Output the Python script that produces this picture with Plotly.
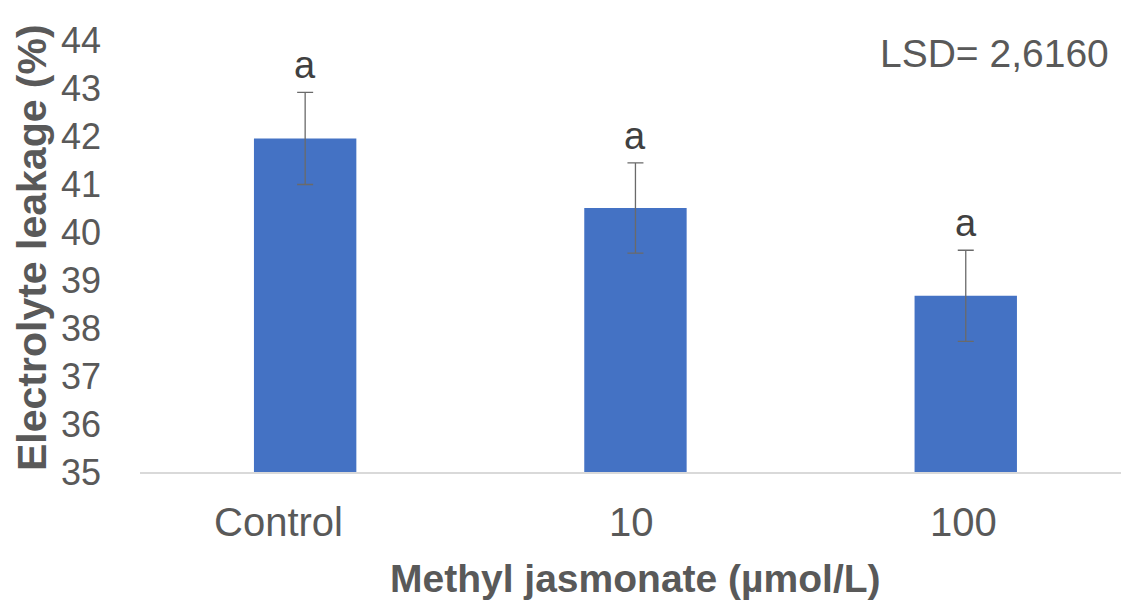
import plotly.graph_objects as go

categories = ["Control", "10", "100"]
means = [41.95, 40.50, 38.67]
errors = [0.96, 0.94, 0.95]
letters = ["a", "a", "a"]
y_ticks = [35, 36, 37, 38, 39, 40, 41, 42, 43, 44]
lsd_text = "LSD= 2,6160"
x_title = "<b>Methyl jasmonate (µmol/L)</b>"
y_title = "<b>Electrolyte leakage (%)</b>"

FONT = "Liberation Sans, Arial, sans-serif"
GRAY = "#595959"
W, H = 1121, 603
ML, MR, MT, MB = 140, 0, 40, 131
label_shift = [-27, -4, -2]

fig = go.Figure()
fig.add_trace(go.Bar(
    x=categories, y=means, width=0.31,
    marker=dict(color="#4472C4", line=dict(width=0)),
    error_y=dict(type="data", array=errors, visible=True,
                 color="#6a6a6a", thickness=1.3, width=8),
    showlegend=False,
))

for i, (m, e, t) in enumerate(zip(means, errors, letters)):
    fig.add_annotation(x=i, y=m + e, xref="x", yref="y", text=t, showarrow=False,
                       yanchor="bottom", yshift=4,
                       font=dict(family=FONT, size=38, color="#404040"))

# category labels (Control label sits left of its bar in the reference)
for i, (c, s) in enumerate(zip(categories, label_shift)):
    fig.add_annotation(x=i, y=0, xref="x", yref="paper", text=c, showarrow=False,
                       xanchor="center", yanchor="middle", xshift=s, yshift=-50,
                       font=dict(family=FONT, size=40, color=GRAY))

fig.add_annotation(x=1, y=1, xref="paper", yref="paper", text=lsd_text,
                   showarrow=False, xanchor="right", yanchor="middle",
                   xshift=-10, yshift=-13,
                   font=dict(family=FONT, size=39, color=GRAY))

# axis titles
pw = W - ML - MR
ph = H - MT - MB
fig.add_annotation(x=0.5, y=-(578 - (H - MB)) / ph, xref="paper", yref="paper",
                   text=x_title, showarrow=False, xanchor="center", yanchor="middle",
                   xshift=5,
                   font=dict(family=FONT, size=39, color=GRAY))
fig.add_annotation(x=-(ML - 32) / pw, y=0.5, xref="paper", yref="paper",
                   text=y_title, showarrow=False, textangle=-90,
                   xanchor="center", yanchor="middle", yshift=8,
                   font=dict(family=FONT, size=41, color=GRAY))

fig.update_layout(
    width=W, height=H,
    margin=dict(l=ML, r=MR, t=MT, b=MB),
    plot_bgcolor="white", paper_bgcolor="white",
    bargap=0.69,
    xaxis=dict(
        type="category", range=[-0.5, 2.47], automargin=False,
        showline=True, linecolor="#d9d9d9", linewidth=2,
        ticks="", showgrid=False, showticklabels=False,
    ),
    yaxis=dict(
        range=[35, 44], tickvals=y_ticks, showgrid=False, zeroline=False,
        showline=False, ticks="", automargin=False,
        tickfont=dict(family=FONT, size=36, color=GRAY),
        ticklabelstandoff=38,
    ),
)

fig.write_html(
    "out.html",
    config={"displayModeBar": False},
    post_script="document.body.style.margin='0';document.body.style.overflow='hidden';",
)
